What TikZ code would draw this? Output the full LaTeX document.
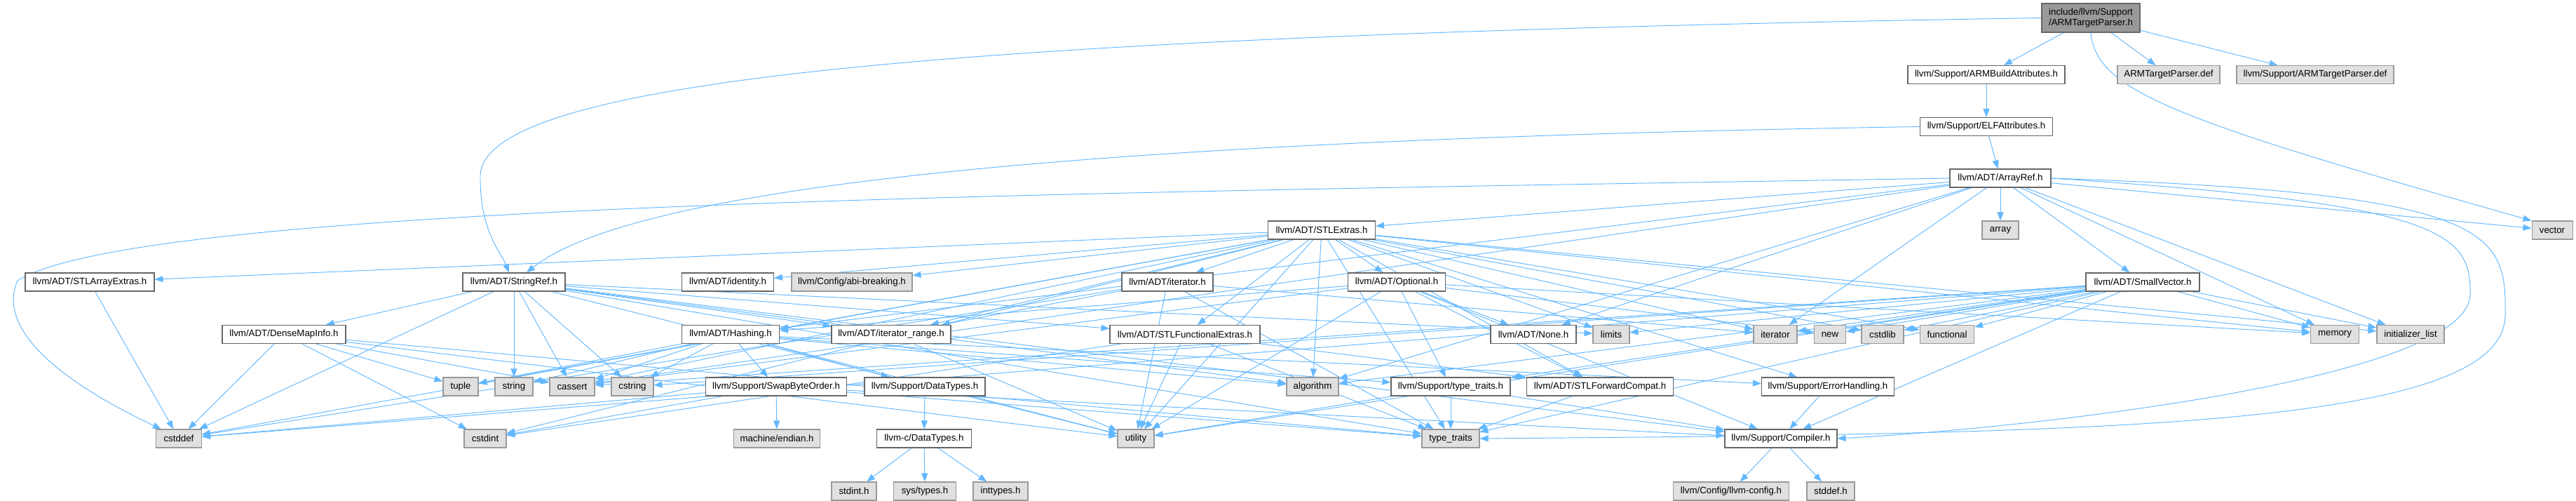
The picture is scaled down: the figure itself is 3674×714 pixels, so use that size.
\documentclass[tikz,border=0pt]{standalone}
\usepackage{fontspec}
\setmainfont{Liberation Sans}
\usetikzlibrary{arrows.meta}
\definecolor{edgec}{HTML}{63B8FF}
\definecolor{gfill}{HTML}{E0E0E0}
\definecolor{gline}{HTML}{999999}
\definecolor{wline}{HTML}{666666}
\definecolor{rfill}{HTML}{999999}
\pgfdeclarelayer{bg}
\pgfsetlayers{bg,main}
\begin{document}
\begin{tikzpicture}[x=1pt,y=-1pt,
  every node/.style={font=\fontsize{13.3}{15}\selectfont, inner sep=0pt, minimum height=26pt, line width=1.1pt},
  wbox/.style={draw=wline, fill=white},
  gbox/.style={draw=gline, fill=gfill},
  rbox/.style={draw=wline, fill=rfill, minimum height=41pt, align=left},
  e/.style={draw=edgec, line width=0.95pt, -{Triangle[length=12pt,width=9pt]}}
]
\useasboundingbox (0,0) rectangle (3674,714);
% row 1
\node[rbox, minimum width=140pt] (root) at (2982,25.5) {include/llvm/Support\\/ARMTargetParser.h};
% row 2
\node[wbox, minimum width=224pt] (armba) at (2833,106.5) {llvm/Support/ARMBuildAttributes.h};
\node[gbox, minimum width=146pt] (atpdef) at (3093,106.5) {ARMTargetParser.def};
\node[gbox, minimum width=224pt] (satpdef) at (3302,106.5) {llvm/Support/ARMTargetParser.def};
% row 3
\node[wbox, minimum width=189pt] (elf) at (2833,180.5) {llvm/Support/ELFAttributes.h};
% row 4
\node[wbox, minimum width=144pt] (arrayref) at (2853,254) {llvm/ADT/ArrayRef.h};
% row 5
\node[wbox, minimum width=153pt] (stlextras) at (1885,328) {llvm/ADT/STLExtras.h};
\node[gbox, minimum width=52pt] (array) at (2853,328) {array};
\node[gbox, minimum width=58pt] (vector) at (3640,328) {vector};
% row 6
\node[wbox, minimum width=184pt] (stlarr) at (128,402) {llvm/ADT/STLArrayExtras.h};
\node[wbox, minimum width=146pt] (stringref) at (733,402) {llvm/ADT/StringRef.h};
\node[wbox, minimum width=131pt] (identity) at (1038,402) {llvm/ADT/identity.h};
\node[gbox, minimum width=172pt] (abi) at (1215,402) {llvm/Config/abi-breaking.h};
\node[wbox, minimum width=130pt] (iterh) at (1665,402) {llvm/ADT/iterator.h};
\node[wbox, minimum width=139pt] (optional) at (1992,402) {llvm/ADT/Optional.h};
\node[wbox, minimum width=162pt] (smallvec) at (3056,402) {llvm/ADT/SmallVector.h};
% row 7
\node[wbox, minimum width=176pt] (densemap) at (405,476.5) {llvm/ADT/DenseMapInfo.h};
\node[wbox, minimum width=139pt] (hashing) at (1042,476.5) {llvm/ADT/Hashing.h};
\node[wbox, minimum width=170pt] (itrange) at (1271,476.5) {llvm/ADT/iterator\_range.h};
\node[wbox, minimum width=214pt] (stlfunc) at (1690,476.5) {llvm/ADT/STLFunctionalExtras.h};
\node[wbox, minimum width=122pt] (none) at (2187,476.5) {llvm/ADT/None.h};
\node[gbox, minimum width=52pt] (limits) at (2298,476.5) {limits};
\node[gbox, minimum width=62pt] (iterator) at (2532,476.5) {iterator};
\node[gbox, minimum width=45pt] (new) at (2610,476.5) {new};
\node[gbox, minimum width=60pt] (cstdlib) at (2685,476.5) {cstdlib};
\node[gbox, minimum width=77pt] (functional) at (2777,476.5) {functional};
\node[gbox, minimum width=69pt] (memory) at (3330,476.5) {memory};
\node[gbox, minimum width=96pt] (initlist) at (3438,476.5) {initializer\_list};
% row 8
\node[gbox, minimum width=50pt] (tuple) at (657,551) {tuple};
\node[gbox, minimum width=54pt] (string) at (733,551) {string};
\node[gbox, minimum width=64pt] (cassert) at (816,551) {cassert};
\node[gbox, minimum width=60pt] (cstring) at (902,551) {cstring};
\node[wbox, minimum width=201pt] (swap) at (1107,551) {llvm/Support/SwapByteOrder.h};
\node[wbox, minimum width=172pt] (sdatatypes) at (1319,551) {llvm/Support/DataTypes.h};
\node[gbox, minimum width=74pt] (algorithm) at (1872,551) {algorithm};
\node[wbox, minimum width=170pt] (stypetraits) at (2069,551) {llvm/Support/type\_traits.h};
\node[wbox, minimum width=209pt] (stlfwd) at (2282,551) {llvm/ADT/STLForwardCompat.h};
\node[wbox, minimum width=189pt] (errh) at (2607,551) {llvm/Support/ErrorHandling.h};
% row 9
\node[gbox, minimum width=65pt] (cstddef) at (255,625) {cstddef};
\node[gbox, minimum width=60pt] (cstdint) at (692,625) {cstdint};
\node[gbox, minimum width=123pt] (endian) at (1108,625) {machine/endian.h};
\node[wbox, minimum width=135pt] (cdatatypes) at (1318,625) {llvm-c/DataTypes.h};
\node[gbox, minimum width=52pt] (utility) at (1620,625) {utility};
\node[gbox, minimum width=82pt] (typetraits) at (2069,625) {type\_traits};
\node[wbox, minimum width=160pt] (compiler) at (2540,625) {llvm/Support/Compiler.h};
% row 10
\node[gbox, minimum width=64pt] (stdinth) at (1218,700) {stdint.h};
\node[gbox, minimum width=89pt] (systypes) at (1319,700) {sys/types.h};
\node[gbox, minimum width=78pt] (inttypes) at (1427,700) {inttypes.h};
\node[gbox, minimum width=165pt] (llvmconfig) at (2469,700) {llvm/Config/llvm-config.h};
\node[gbox, minimum width=68pt] (stddefh) at (2611,700) {stddef.h};

\begin{pgfonlayer}{bg}
\foreach \s/\t in {root/armba, root/atpdef, root/satpdef, armba/elf, elf/arrayref,
  arrayref/array, arrayref/stlextras, arrayref/smallvec, arrayref/hashing, arrayref/none,
  arrayref/algorithm, arrayref/cassert, arrayref/initlist, arrayref/iterator, arrayref/memory, arrayref/vector,
  stlextras/identity, stlextras/optional, stlextras/stlarr, stlextras/stlfwd, stlextras/stlfunc,
  stlextras/iterh, stlextras/itrange, stlextras/abi, stlextras/errh, stlextras/algorithm,
  stlextras/cassert, stlextras/cstddef, stlextras/cstdint, stlextras/cstdlib, stlextras/functional,
  stlextras/initlist, stlextras/iterator, stlextras/limits, stlextras/memory, stlextras/tuple,
  stlextras/typetraits, stlextras/utility,
  optional/hashing, optional/none, optional/stlfwd, optional/compiler, optional/stypetraits,
  optional/cassert, optional/memory, optional/new, optional/utility,
  hashing/sdatatypes, hashing/errh, hashing/swap, hashing/stypetraits, hashing/algorithm,
  hashing/cassert, hashing/cstring, hashing/string, hashing/tuple, hashing/utility,
  swap/compiler, swap/cstddef, swap/cstdint, swap/typetraits, swap/endian,
  sdatatypes/cdatatypes, cdatatypes/inttypes, cdatatypes/stdinth, cdatatypes/systypes,
  errh/compiler, compiler/llvmconfig, compiler/stddefh,
  stypetraits/compiler, stypetraits/typetraits, stypetraits/utility, stlfwd/typetraits,
  stlfunc/stlfwd, stlfunc/typetraits, stlfunc/utility, stlfunc/cstdint,
  iterh/itrange, iterh/cstddef, iterh/iterator, iterh/typetraits, iterh/utility, itrange/utility,
  stringref/densemap, stringref/stlfunc, stringref/itrange, stringref/compiler, stringref/algorithm,
  stringref/cassert, stringref/cstddef, stringref/cstring, stringref/limits, stringref/string,
  stringref/typetraits, stringref/utility,
  densemap/cassert, densemap/cstddef, densemap/cstdint, densemap/tuple, densemap/typetraits, densemap/utility,
  stlarr/cstddef,
  smallvec/compiler, smallvec/stypetraits, smallvec/algorithm, smallvec/cassert, smallvec/cstddef,
  smallvec/cstdlib, smallvec/cstring, smallvec/functional, smallvec/initlist, smallvec/iterator,
  smallvec/limits, smallvec/memory, smallvec/new, smallvec/typetraits, smallvec/utility}
  \draw[e] (\s) -- (\t);
\draw[e] (root.west) .. controls (1400,50) and (690,110) .. (685,250) .. controls (684,330) and (715,360) .. ([xshift=-7pt]stringref.north);
\draw[e] (elf.west) .. controls (1500,200) and (900,270) .. ([xshift=18pt]stringref.north);
\draw[e] (root.south) .. controls (2990,130) and (3100,170) .. (vector.north west);
\draw[e] (arrayref.west) .. controls (1500,275) and (200,290) .. (25,400) .. controls (-10,480) and (120,560) .. ([xshift=-25pt]cstddef.north);
\draw[e] (arrayref.east) .. controls (3480,290) and (3525,330) .. (3523,420) .. controls (3520,540) and (2900,610) .. (compiler.east);
\draw[e] (arrayref.east) .. controls (3560,275) and (3575,330) .. (3573,450) .. controls (3570,610) and (3000,618) .. (typetraits.east);
\end{pgfonlayer}
\end{tikzpicture}
\end{document}
